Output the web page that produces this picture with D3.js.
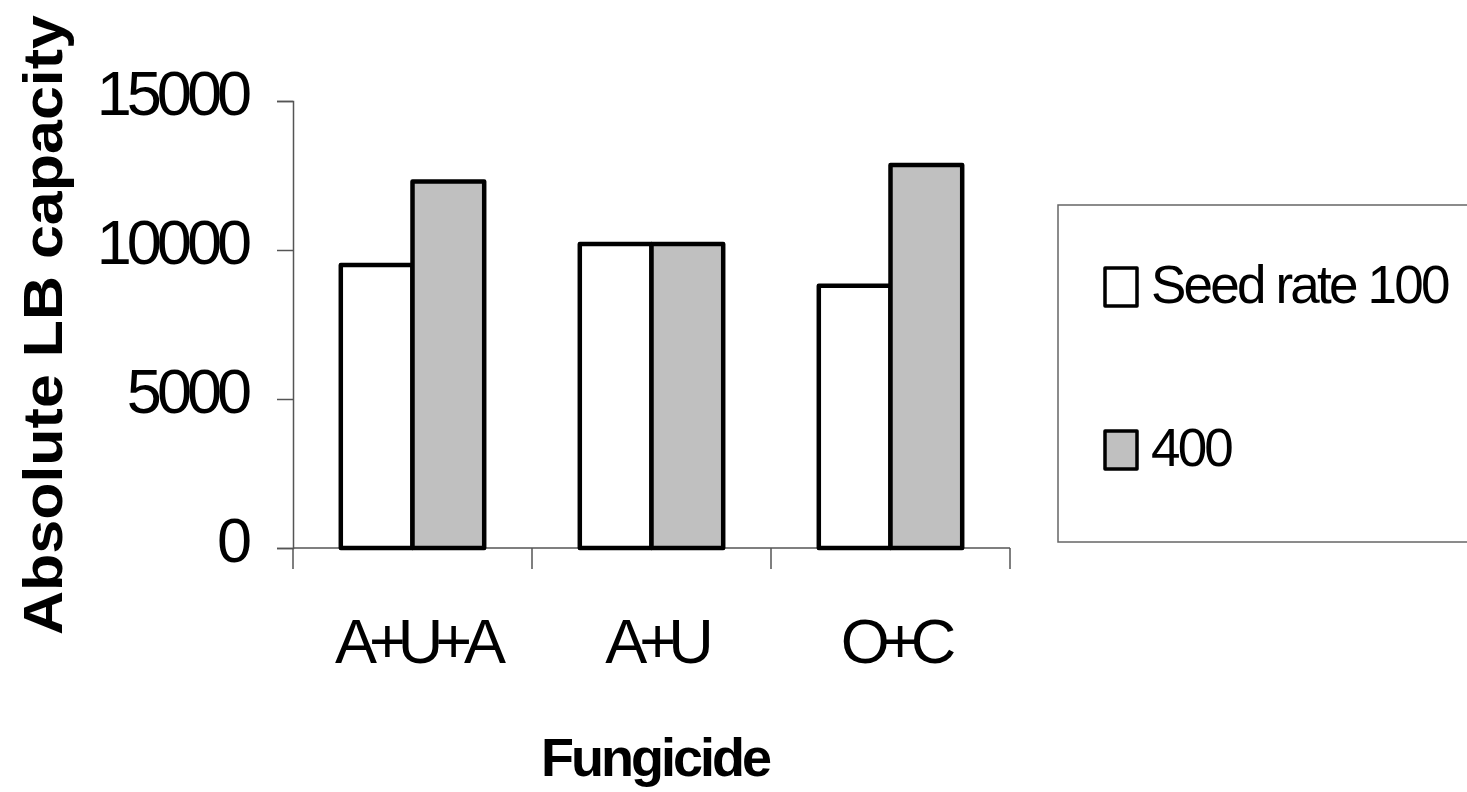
<!DOCTYPE html>
<html>
<head>
<meta charset="utf-8">
<script src="https://cdn.jsdelivr.net/npm/d3@7"></script>
<style>
  body { margin: 0; background: #fff; }
  svg { display: block; font-family: "Liberation Sans", Arial, sans-serif; }
</style>
</head>
<body>
<div id="chart"></div>
<script>
// data
var categories = ["A+U+A", "A+U", "O+C"];
var seriesNames = ["Seed rate 100", "400"];
var seed100 = [9500, 10200, 8800];
var seed400 = [12300, 10200, 12850];
var yTicks = [0, 5000, 10000, 15000];
var fills = ["#ffffff", "#c0c0c0"];

var W = 1467, H = 792;
var svg = d3.select("#chart").append("svg")
    .attr("width", W)
    .attr("height", H);

var x = d3.scaleBand()
    .domain(categories)
    .range([293, 1010])
    .padding(0);

var xs = d3.scaleBand()
    .domain(seriesNames)
    .range([x.bandwidth() * 0.2, x.bandwidth() * 0.8])
    .padding(0);

var y = d3.scaleLinear()
    .domain([0, 15000])
    .range([548, 101]);

var axisColor = "#555";

// y axis
var yAxis = svg.append("g")
    .attr("transform", "translate(293,0)")
    .call(d3.axisLeft(y).tickValues(yTicks).tickSize(16).tickPadding(30).tickFormat(d3.format("d")));
yAxis.select(".domain").attr("stroke", axisColor).attr("stroke-width", 1.5);
yAxis.selectAll(".tick line").attr("stroke", axisColor).attr("stroke-width", 1.5);
yAxis.selectAll(".tick text")
    .attr("font-size", 63)
    .attr("letter-spacing", -5)
    .attr("dy", "0.22em")
    .attr("fill", "#000")
    .attr("font-family", "Liberation Sans, Arial, sans-serif");

// x axis line + boundary ticks
var bounds = categories.map(function (c) { return x(c); }).concat([x.range()[1]]);
svg.append("line")
    .attr("x1", x.range()[0]).attr("x2", x.range()[1])
    .attr("y1", y(0)).attr("y2", y(0))
    .attr("stroke", axisColor).attr("stroke-width", 1.5);
svg.selectAll(".xtick")
    .data(bounds).enter()
    .append("line")
    .attr("class", "xtick")
    .attr("x1", d => d).attr("x2", d => d)
    .attr("y1", y(0)).attr("y2", y(0) + 21)
    .attr("stroke", axisColor).attr("stroke-width", 1.5);

svg.selectAll(".xlabel")
    .data(categories).enter()
    .append("text")
    .attr("class", "xlabel")
    .attr("x", d => x(d) + x.bandwidth() / 2 + 4)
    .attr("y", 663)
    .attr("text-anchor", "middle")
    .attr("font-size", 63)
    .attr("letter-spacing", -8)
    .text(d => d);

// bars
var rows = [];
categories.forEach(function (c, i) {
    rows.push({cat: c, series: seriesNames[0], value: seed100[i], idx: 0});
    rows.push({cat: c, series: seriesNames[1], value: seed400[i], idx: 1});
});
svg.selectAll(".bar")
    .data(rows).enter()
    .append("rect")
    .attr("class", "bar")
    .attr("x", d => x(d.cat) + xs(d.series))
    .attr("y", d => y(d.value))
    .attr("width", xs.bandwidth())
    .attr("height", d => y(0) - y(d.value))
    .attr("fill", d => fills[d.idx])
    .attr("stroke", "#000")
    .attr("stroke-width", 4.5)
    .attr("stroke-linejoin", "round");

// axis titles
svg.append("text")
    .attr("transform", "translate(62,325) rotate(-90)")
    .attr("text-anchor", "middle")
    .attr("font-size", 56)
    .attr("font-weight", "bold")
    .attr("textLength", 620)
    .attr("lengthAdjust", "spacingAndGlyphs")
    .text("Absolute LB capacity");

svg.append("text")
    .attr("x", 655)
    .attr("y", 776)
    .attr("text-anchor", "middle")
    .attr("font-size", 54)
    .attr("font-weight", "bold")
    .attr("letter-spacing", -3)
    .text("Fungicide");

// legend
svg.append("rect")
    .attr("x", 1058).attr("y", 205)
    .attr("width", 430).attr("height", 337)
    .attr("fill", "#fff")
    .attr("stroke", "#666")
    .attr("stroke-width", 1.5);

var legendY = [268, 431];
var leg = svg.selectAll(".legend")
    .data(seriesNames).enter()
    .append("g")
    .attr("class", "legend")
    .attr("transform", (d, i) => "translate(1105," + legendY[i] + ")");
leg.append("rect")
    .attr("width", 32).attr("height", 38)
    .attr("fill", (d, i) => fills[i])
    .attr("stroke", "#000")
    .attr("stroke-width", 3.5)
    .attr("stroke-linejoin", "round");
leg.append("text")
    .attr("x", 46)
    .attr("y", 35)
    .attr("font-size", 53)
    .attr("letter-spacing", -2.8)
    .text(d => d);
</script>
</body>
</html>
